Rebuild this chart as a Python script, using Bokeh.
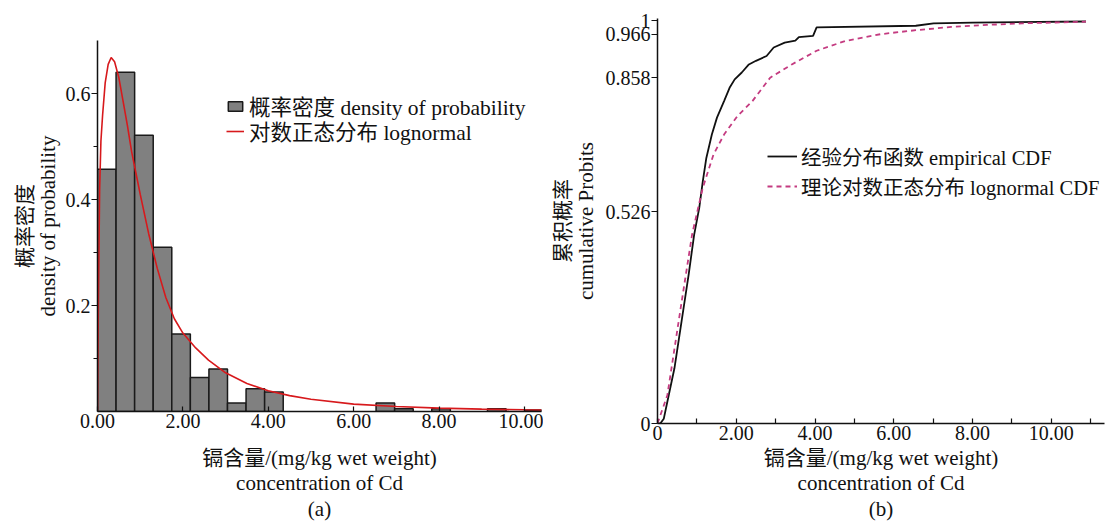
from bokeh.plotting import figure
from bokeh.models import (FixedTicker, Legend, LegendItem, ColumnDataSource,
                          PrintfTickFormatter, CustomJSTickFormatter)
from bokeh.embed import file_html
from bokeh.resources import INLINE

# ---------------- data: (a) histogram + lognormal density ----------------
bin_edges = [0.000, 0.435, 0.870, 1.305, 1.740, 2.175, 2.610, 3.045, 3.480, 3.915,
             4.350, 4.785, 5.220, 5.655, 6.090, 6.525, 6.960, 7.395, 7.830, 8.265,
             8.700, 9.135, 9.570, 10.005, 10.440]
density = [0.457, 0.640, 0.521, 0.310, 0.146, 0.064, 0.080, 0.016, 0.043, 0.037,
           0.0, 0.0, 0.0, 0.0, 0.0, 0.016, 0.005, 0.0, 0.005, 0.0,
           0.0, 0.005, 0.0, 0.003]

pdf_x = [0.0, 0.02, 0.05, 0.08, 0.12, 0.18, 0.25, 0.32, 0.40, 0.50, 0.60, 0.70, 0.80,
         0.90, 1.00, 1.20, 1.40, 1.60, 1.80, 2.00, 2.30, 2.60, 3.00, 3.50, 4.00, 4.50,
         5.00, 6.00, 7.00, 8.00, 9.00, 10.00, 10.40]
pdf_y = [0.0, 0.20, 0.42, 0.51, 0.56, 0.62, 0.655, 0.668, 0.66, 0.63, 0.585, 0.54, 0.49,
         0.45, 0.41, 0.335, 0.27, 0.215, 0.175, 0.148, 0.120, 0.097, 0.073, 0.053, 0.039,
         0.030, 0.023, 0.014, 0.0093, 0.0063, 0.0044, 0.0032, 0.0028]

hist_ticks = [0, 2, 4, 6, 8, 10]
dens_ticks = [0.2, 0.4, 0.6]
dens_minor = [0.1, 0.3, 0.5]

# ---------------- data: (b) cumulative distributions ----------------
ecdf_x = [0.0, 0.07, 0.16, 0.25, 0.43, 0.61, 0.79, 0.93, 1.06, 1.15, 1.24, 1.38, 1.51,
          1.69, 1.83, 1.96, 2.14, 2.32, 2.50, 2.77, 2.95, 3.23, 3.50, 3.59, 3.95, 4.04,
          6.56, 7.01, 8.00, 10.88]
ecdf_y = [0.0, 0.0, 0.012, 0.054, 0.137, 0.253, 0.369, 0.468, 0.535, 0.601, 0.659, 0.717,
          0.759, 0.800, 0.833, 0.854, 0.871, 0.891, 0.900, 0.912, 0.933, 0.945, 0.950,
          0.959, 0.962, 0.983, 0.987, 0.993, 0.995, 0.9975]

lncdf_x = [0.0, 0.25, 0.61, 0.88, 1.15, 1.42, 1.69, 2.03, 2.41, 2.86, 3.41, 4.04, 4.76,
           5.66, 6.56, 7.46, 8.36, 9.26, 10.88]
lncdf_y = [0.0, 0.07, 0.30, 0.47, 0.585, 0.667, 0.717, 0.763, 0.800, 0.858, 0.891, 0.925,
           0.949, 0.966, 0.976, 0.984, 0.989, 0.993, 0.997]

cdf_ticks = [0, 0.526, 0.858, 0.966, 1]
conc_ticks = [0, 2, 4, 6, 8, 10]
conc_minor = [1, 3, 5, 7, 9, 11]

SERIF = "'Liberation Serif', 'Noto Sans CJK SC', serif"
FS = "21px"
TICK_FS = "20px"


def style_axes(p):
    p.outline_line_color = None
    p.grid.visible = False
    for ax in (p.xaxis[0], p.yaxis[0]):
        ax.axis_line_color = "#111111"
        ax.axis_line_width = 1.5
        ax.major_tick_line_color = "#111111"
        ax.minor_tick_line_color = "#111111"
        ax.major_tick_line_width = 1.2
        ax.minor_tick_line_width = 1.2
        ax.major_label_text_font = SERIF
        ax.major_label_text_font_size = TICK_FS
        ax.major_label_text_color = "#111111"
        ax.axis_label_text_font = SERIF
        ax.axis_label_text_font_size = FS
        ax.axis_label_text_font_style = "normal"
        ax.axis_label_text_color = "#111111"
    p.xaxis.axis_label_text_line_height = 1.08
    p.yaxis.axis_label_text_line_height = 0.95
    p.xaxis.major_tick_in = 5
    p.xaxis.major_tick_out = 0
    p.xaxis.minor_tick_in = 5
    p.xaxis.minor_tick_out = 0
    p.xaxis.major_label_standoff = 2
    p.yaxis.major_tick_in = 0
    p.yaxis.major_tick_out = 6
    p.yaxis.minor_tick_in = 0
    p.yaxis.minor_tick_out = 4
    p.yaxis.major_label_standoff = 1


def make_legend(items, loc, glyph_w, glyph_h, fs, standoff):
    return Legend(items=items, location=loc, padding=0, margin=0, spacing=0,
                  glyph_width=glyph_w, glyph_height=glyph_h, label_height=22,
                  label_standoff=standoff,
                  label_text_font=SERIF, label_text_font_size=fs,
                  label_text_color="#111111",
                  border_line_alpha=0, background_fill_alpha=0)


# ---------------- figure (a) ----------------
p1 = figure(width=543, height=528, x_range=(0, 10.4), y_range=(0, 0.70),
            output_backend="svg", toolbar_location=None,
            min_border_left=97, min_border_right=2, min_border_top=40, min_border_bottom=117)
style_axes(p1)
p1.xaxis.ticker = FixedTicker(ticks=hist_ticks)
p1.xaxis.formatter = PrintfTickFormatter(format="%.2f")
p1.yaxis.ticker = FixedTicker(ticks=dens_ticks, minor_ticks=dens_minor)
p1.xaxis.axis_label = "镉含量/(mg/kg wet weight)\nconcentration of Cd\n(a)"
p1.xaxis.axis_label_standoff = 15
p1.yaxis.axis_label = "概率密度\ndensity of probability"
p1.yaxis.axis_label_standoff = 3

nz = [i for i, d in enumerate(density) if d > 0]
src_bars = ColumnDataSource(dict(left=[bin_edges[i] for i in nz],
                                 right=[bin_edges[i + 1] for i in nz],
                                 top=[density[i] for i in nz]))
bars = p1.quad(left="left", right="right", bottom=0, top="top", source=src_bars,
               fill_color="#808080", line_color="#1a1a1a", line_width=1.5)
pdf_line = p1.line(pdf_x, pdf_y, line_color="#d7191c", line_width=1.6)

p1.add_layout(make_legend([LegendItem(label="概率密度 density of probability", renderers=[bars])],
                          (129, 290), 18, 12, "21.5px", 5))
p1.add_layout(make_legend([LegendItem(label="对数正态分布 lognormal", renderers=[pdf_line])],
                          (129, 265), 18, 12, "21.5px", 5))

# ---------------- figure (b) ----------------
p2 = figure(width=573, height=528, x_range=(0, 11.35), y_range=(0, 1.005),
            output_backend="svg", toolbar_location=None,
            min_border_left=114, min_border_right=12, min_border_top=18, min_border_bottom=105)
style_axes(p2)
p2.xaxis.ticker = FixedTicker(ticks=conc_ticks, minor_ticks=conc_minor)
p2.xaxis.formatter = CustomJSTickFormatter(code="return tick == 0 ? '0' : tick.toFixed(2);")
p2.yaxis.ticker = FixedTicker(ticks=cdf_ticks)
p2.yaxis.formatter = CustomJSTickFormatter(
    code="return (tick == 0 || tick == 1) ? tick.toFixed(0) : tick.toFixed(3);")
p2.xaxis.axis_label = "镉含量/(mg/kg wet weight)\nconcentration of Cd\n(b)"
p2.xaxis.axis_label_standoff = 3
p2.yaxis.axis_label = "累积概率\ncumulative Probits"
p2.yaxis.axis_label_standoff = 5

ecdf_line = p2.line(ecdf_x, ecdf_y, line_color="#111111", line_width=1.8)
ln_line = p2.line(lncdf_x, lncdf_y, line_color="#c43b80", line_width=1.8, line_dash="5 4")

p2.add_layout(make_legend([LegendItem(label="经验分布函数 empirical CDF", renderers=[ecdf_line]),
                           LegendItem(label="理论对数正态分布 lognormal CDF", renderers=[ln_line])],
                          (110, 222), 30, 20, "20.5px", 4))

# two independent roots placed side by side (no frame alignment between them)
html = file_html((p1, p2), INLINE)
html = html.replace("</head>",
                    "<style>html,body{margin:0;padding:0;}"
                    "body{display:flex;flex-direction:row;align-items:flex-start;}</style></head>", 1)
open("out.html", "w").write(html)
